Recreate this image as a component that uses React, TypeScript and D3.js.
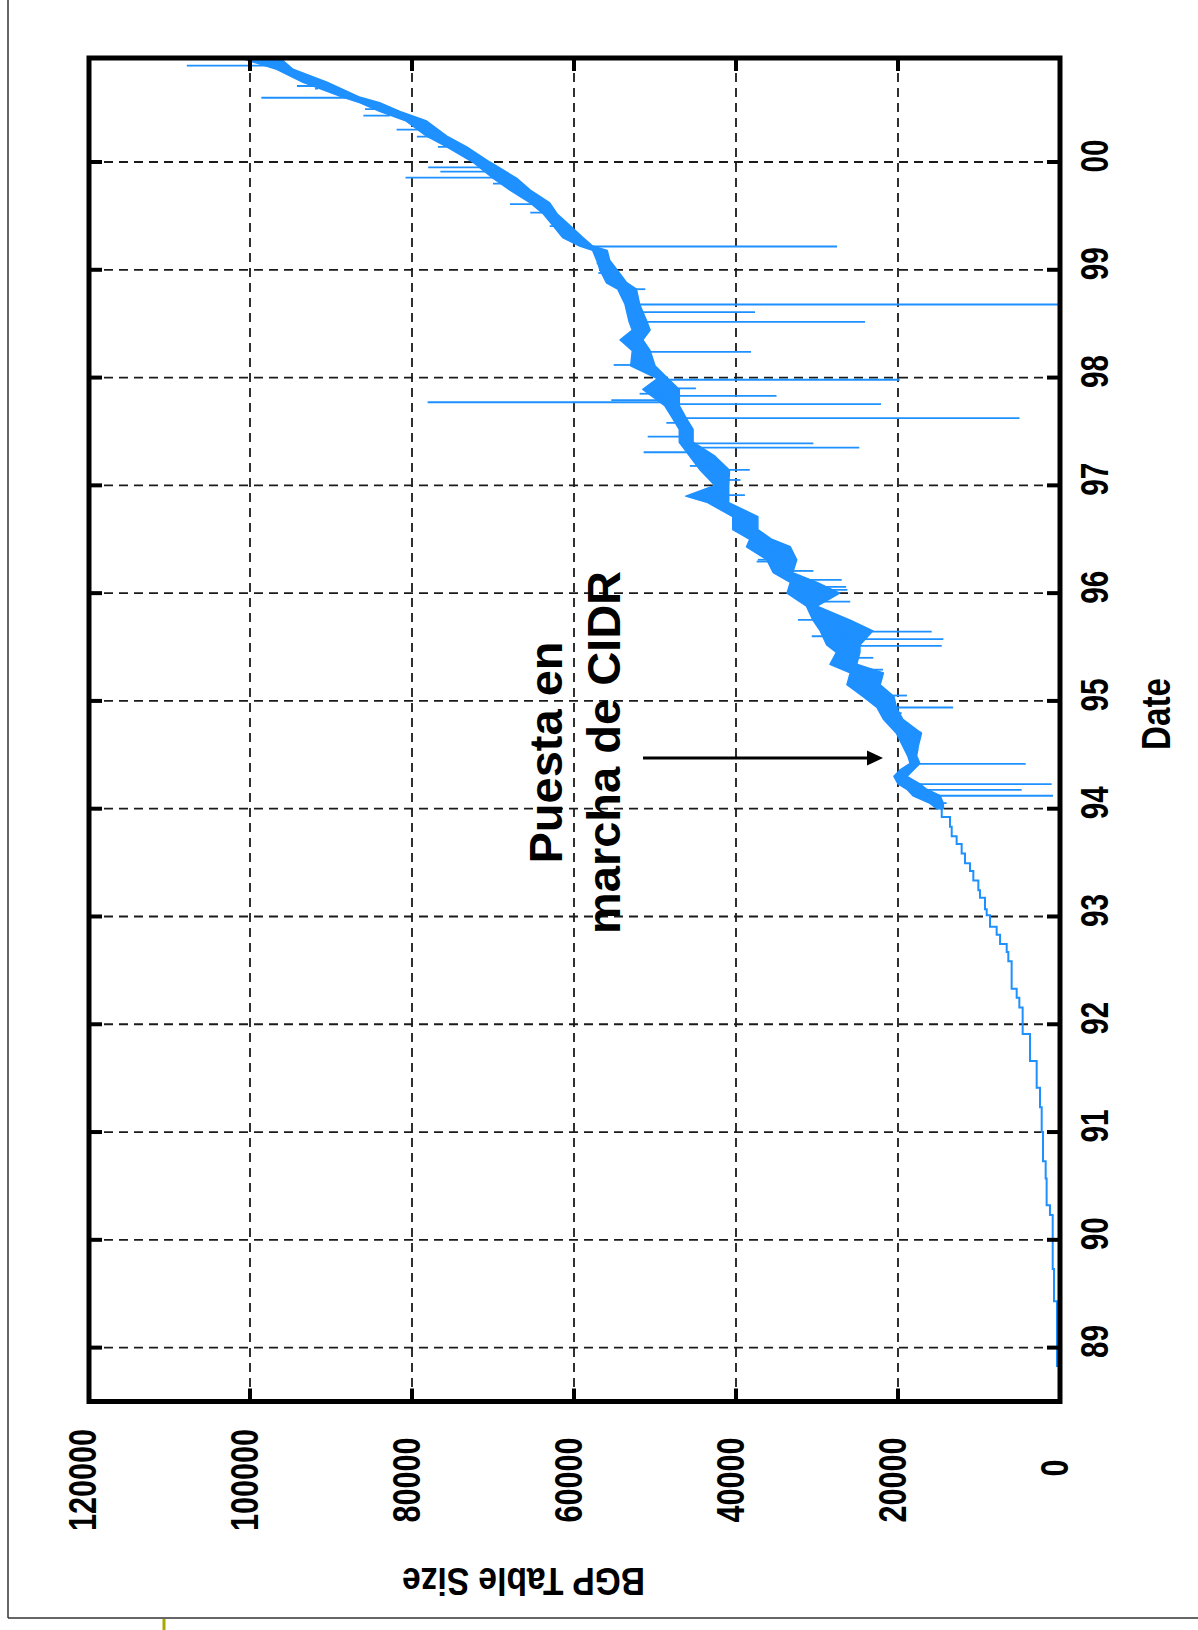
import React from "react";
import * as d3 from "d3";

// date axis (vertical, after the chart is turned on its side)
const years = [1989, 1990, 1991, 1992, 1993, 1994, 1995, 1996, 1997, 1998, 1999, 2000];
const yearLabels = ["89", "90", "91", "92", "93", "94", "95", "96", "97", "98", "99", "00"];
// BGP table size axis (horizontal, grows to the left)
const sizeTicks = [0, 20000, 40000, 60000, 80000, 100000, 120000];

// pre-CIDR growth: [year, table size from this date on]
const preCidr: [number, number][] = [
  [1988.5, 100], [1988.83, 370], [1989.43, 740], [1989.73, 900], [1990.23, 1240],
  [1990.32, 1650], [1990.57, 1770], [1990.73, 2100], [1991.0, 2260], [1991.23, 2470],
  [1991.41, 2880], [1991.66, 3700], [1991.91, 4610], [1992.155, 5020], [1992.245, 5350],
  [1992.33, 5970], [1992.585, 6380], [1992.67, 6580], [1992.745, 7400], [1992.83, 7820],
  [1992.905, 8640], [1993.012, 9050], [1993.066, 9260], [1993.173, 9880], [1993.244, 10080],
  [1993.333, 10700], [1993.422, 11110], [1993.494, 11730], [1993.584, 12140], [1993.673, 12760],
  [1993.744, 13370], [1993.833, 13580], [1993.922, 14600], [1994.0, 14800],
];

// noisy period after CIDR: [year, low, high]
const cidrBand: [number, number, number][] = [
  [1994.0, 14400, 15200], [1994.05, 14400, 16050], [1994.12, 14800, 18150], [1994.18, 16460, 18900],
  [1994.23, 17300, 20000], [1994.3, 18900, 20500], [1994.36, 18100, 19750], [1994.42, 17300, 18500],
  [1994.49, 17700, 18800], [1994.58, 17500, 19400], [1994.7, 17100, 20200], [1994.83, 19400, 21800],
  [1994.94, 20200, 22600], [1995.04, 20500, 24300], [1995.15, 22200, 26300], [1995.26, 21800, 25900],
  [1995.34, 25100, 28400], [1995.45, 24700, 27600], [1995.52, 24700, 28800], [1995.65, 23100, 29600],
  [1995.75, 25900, 30500], [1995.88, 30000, 31300], [1996.0, 27200, 33700], [1996.1, 30000, 33300],
  [1996.19, 33000, 35400], [1996.31, 32500, 36200], [1996.43, 33300, 38700], [1996.5, 35600, 38300],
  [1996.59, 37300, 40400], [1996.71, 37300, 40400], [1996.84, 40900, 43500], [1996.9, 40900, 46200],
  [1997.0, 40900, 42600], [1997.14, 40800, 44400], [1997.27, 42600, 45700], [1997.4, 45300, 47000],
  [1997.52, 45300, 47000], [1997.63, 46200, 47900], [1997.74, 47000, 48800], [1997.89, 47000, 51500],
  [1997.99, 48400, 49700], [1998.11, 50000, 53000], [1998.25, 50600, 52800], [1998.35, 51500, 54300],
  [1998.44, 50600, 52800], [1998.52, 51000, 53200], [1998.68, 51900, 53700], [1998.82, 52300, 54600],
  [1998.88, 53500, 56000], [1999.0, 54700, 56800], [1999.09, 55600, 57200], [1999.18, 55900, 57700],
  [1999.22, 57700, 59300], [1999.3, 58900, 61400], [1999.41, 60500, 62600], [1999.52, 62100, 63800],
  [1999.62, 63000, 65400], [1999.74, 65400, 67900], [1999.85, 67100, 70000], [2000.0, 70400, 72500],
  [2000.14, 73250, 75700], [2000.24, 75700, 78200], [2000.38, 78200, 80700], [2000.47, 81500, 84000],
  [2000.55, 84000, 86400], [2000.6, 86400, 88500], [2000.74, 90500, 93450], [2000.86, 94700, 96700],
  [2000.965, 96300, 101200],
];

// short-lived outliers: [year, table size]
const spikes: [number, number][] = [
  [2000.895, 107800], [2000.705, 94200], [2000.68, 91600], [2000.596, 98600], [2000.43, 86000],
  [2000.3, 81900], [2000.235, 79400], [2000.14, 76800], [1999.95, 78000], [1999.91, 76500],
  [1999.855, 80800], [1999.61, 67900], [1999.53, 65400], [1999.406, 63000], [1999.216, 27530],
  [1998.82, 51200], [1998.678, 0], [1998.608, 37650], [1998.516, 24070], [1998.238, 38150],
  [1998.117, 55100], [1997.98, 19800], [1997.83, 35000], [1997.771, 78070], [1997.753, 22100],
  [1997.623, 5000], [1997.452, 50900], [1997.389, 30450], [1997.35, 24780], [1997.307, 51400],
  [1997.143, 38300], [1996.293, 37450], [1996.206, 30450], [1996.123, 26950], [1996.058, 26400],
  [1996.03, 26250], [1995.922, 25900], [1995.752, 32350], [1995.643, 15840], [1995.573, 14400],
  [1995.511, 14600], [1994.939, 13200], [1994.416, 4240], [1994.228, 1030], [1994.175, 4730],
  [1994.12, 860], [1994.052, 14000],
  // shorter whiskers along the band
  [2000.49, 85800], [2000.204, 76800], [1999.8, 70000], [1999.353, 61350], [1999.06, 57200],
  [1998.97, 57000], [1998.91, 54300], [1998.35, 54300], [1997.9, 44950], [1997.85, 51900],
  [1997.79, 55400], [1997.58, 48600], [1997.18, 45700], [1997.05, 39450], [1996.91, 38900],
  [1996.31, 37300], [1996.4, 33300], [1995.6, 30650], [1995.4, 23050], [1995.29, 21850],
  [1995.2, 22200], [1995.15, 26300], [1995.05, 18900], [1994.887, 19550], [1994.707, 17100],
  [1994.546, 17500],
];

// annotation arrow: points at the CIDR turning point
const arrowDate = 1994.47;
const arrowFrom = 51480;
const arrowTo = 21850;

const blue = "#1e90ff";
const font = "'Liberation Sans', Arial, sans-serif";

export default function App() {
  const left = 89, right = 1060, top = 58, bottom = 1401.5;

  const x = d3.scaleLinear().domain([0, 120000]).range([1060, 88]);
  const y = d3.scaleLinear().domain([1988.5, 2000.965]).range([bottom, top]);

  const stairs = d3
    .line<[number, number]>()
    .y((d) => y(d[0]))
    .x((d) => x(d[1]))
    .curve(d3.curveStepBefore)(preCidr) as string;

  const band = d3
    .area<[number, number, number]>()
    .y((d) => y(d[0]))
    .x0((d) => x(d[1]))
    .x1((d) => x(d[2]))(cidrBand) as string;

  const nearest = (yr: number) => {
    let best = cidrBand[0];
    for (const b of cidrBand) if (Math.abs(b[0] - yr) < Math.abs(best[0] - yr)) best = b;
    return (best[1] + best[2]) / 2;
  };

  const ay = y(arrowDate);
  const ax0 = x(arrowFrom);
  const ax1 = x(arrowTo);

  return (
    <svg
      width={1198}
      height={1630}
      style={{ position: "absolute", left: 0, top: 0, background: "#fff" }}
    >
      <defs>
        <clipPath id="plot">
          <rect x={left} y={top} width={right - left} height={bottom - top} />
        </clipPath>
      </defs>

      {/* page frame */}
      <line x1={8} y1={0} x2={8} y2={1618} stroke="#333" strokeWidth={1.5} />
      <line x1={8} y1={1618} x2={1198} y2={1618} stroke="#333" strokeWidth={1.5} />
      <line x1={164} y1={1619} x2={164} y2={1630} stroke="#a8a800" strokeWidth={3} />

      {/* grid */}
      <g stroke="#1a1a1a" strokeWidth={1.8} strokeDasharray="9,6">
        {sizeTicks.slice(1, -1).map((v) => (
          <line key={"v" + v} x1={x(v)} x2={x(v)} y1={top} y2={bottom} />
        ))}
        {years.map((yr) => (
          <line key={"h" + yr} x1={left} x2={right} y1={y(yr)} y2={y(yr)} />
        ))}
      </g>

      {/* data */}
      <g clipPath="url(#plot)">
        <path d={stairs} fill="none" stroke={blue} strokeWidth={2} />
        <path d={band} fill={blue} stroke={blue} strokeWidth={1.5} strokeLinejoin="round" />
        {spikes.map(([yr, v], i) => (
          <line
            key={i}
            x1={x(nearest(yr))}
            x2={x(v)}
            y1={y(yr)}
            y2={y(yr)}
            stroke={blue}
            strokeWidth={1.8}
          />
        ))}
      </g>

      {/* ticks */}
      <g stroke="#000" strokeWidth={4}>
        {sizeTicks.slice(1, -1).map((v) => (
          <g key={"t" + v}>
            <line x1={x(v)} x2={x(v)} y1={top} y2={top + 13} />
            <line x1={x(v)} x2={x(v)} y1={bottom} y2={bottom - 13} />
          </g>
        ))}
        {years.map((yr) => (
          <g key={"ty" + yr}>
            <line x1={left} x2={left + 13} y1={y(yr)} y2={y(yr)} />
            <line x1={right} x2={right - 13} y1={y(yr)} y2={y(yr)} />
          </g>
        ))}
      </g>

      {/* frame */}
      <rect
        x={left}
        y={top}
        width={right - left}
        height={bottom - top}
        fill="none"
        stroke="#000"
        strokeWidth={5}
      />

      {/* axis labels */}
      <g fontFamily={font} fontWeight="bold" fontSize={38} fill="#000">
        {sizeTicks.map((v) => (
          <text
            key={"l" + v}
            transform={`translate(${x(v) + 8},${v === 0 ? 1468 : 1480}) rotate(-90)`}
            textAnchor="middle"
            textLength={String(v).length * 17}
            lengthAdjust="spacingAndGlyphs"
          >
            {v}
          </text>
        ))}
        {years.map((yr, i) => (
          <text
            key={"yl" + yr}
            transform={`translate(1108,${y(yr) - 6}) rotate(-90)`}
            textAnchor="middle"
            textLength={33}
            lengthAdjust="spacingAndGlyphs"
          >
            {yearLabels[i]}
          </text>
        ))}
        <text
          transform="translate(1170,714) rotate(-90)"
          textAnchor="middle"
          fontSize={41}
          textLength={72}
          lengthAdjust="spacingAndGlyphs"
        >
          Date
        </text>
        <text
          transform="translate(523.5,1568) rotate(180)"
          textAnchor="middle"
          fontSize={39}
          textLength={243}
          lengthAdjust="spacingAndGlyphs"
        >
          BGP Table Size
        </text>
      </g>

      {/* annotation */}
      <g fontFamily={font} fontWeight="bold" fontSize={47} fill="#000">
        <text transform="translate(562,752.5) rotate(-90)" textAnchor="middle">
          Puesta en
        </text>
        <text transform="translate(620,752.5) rotate(-90)" textAnchor="middle">
          marcha de CIDR
        </text>
      </g>
      <line x1={ax0} x2={ax1 - 14} y1={ay} y2={ay} stroke="#000" strokeWidth={3} />
      <path
        d={`M${ax1},${ay} L${ax1 - 16},${ay - 7.5} L${ax1 - 16},${ay + 7.5} Z`}
        fill="#000"
      />
    </svg>
  );
}
